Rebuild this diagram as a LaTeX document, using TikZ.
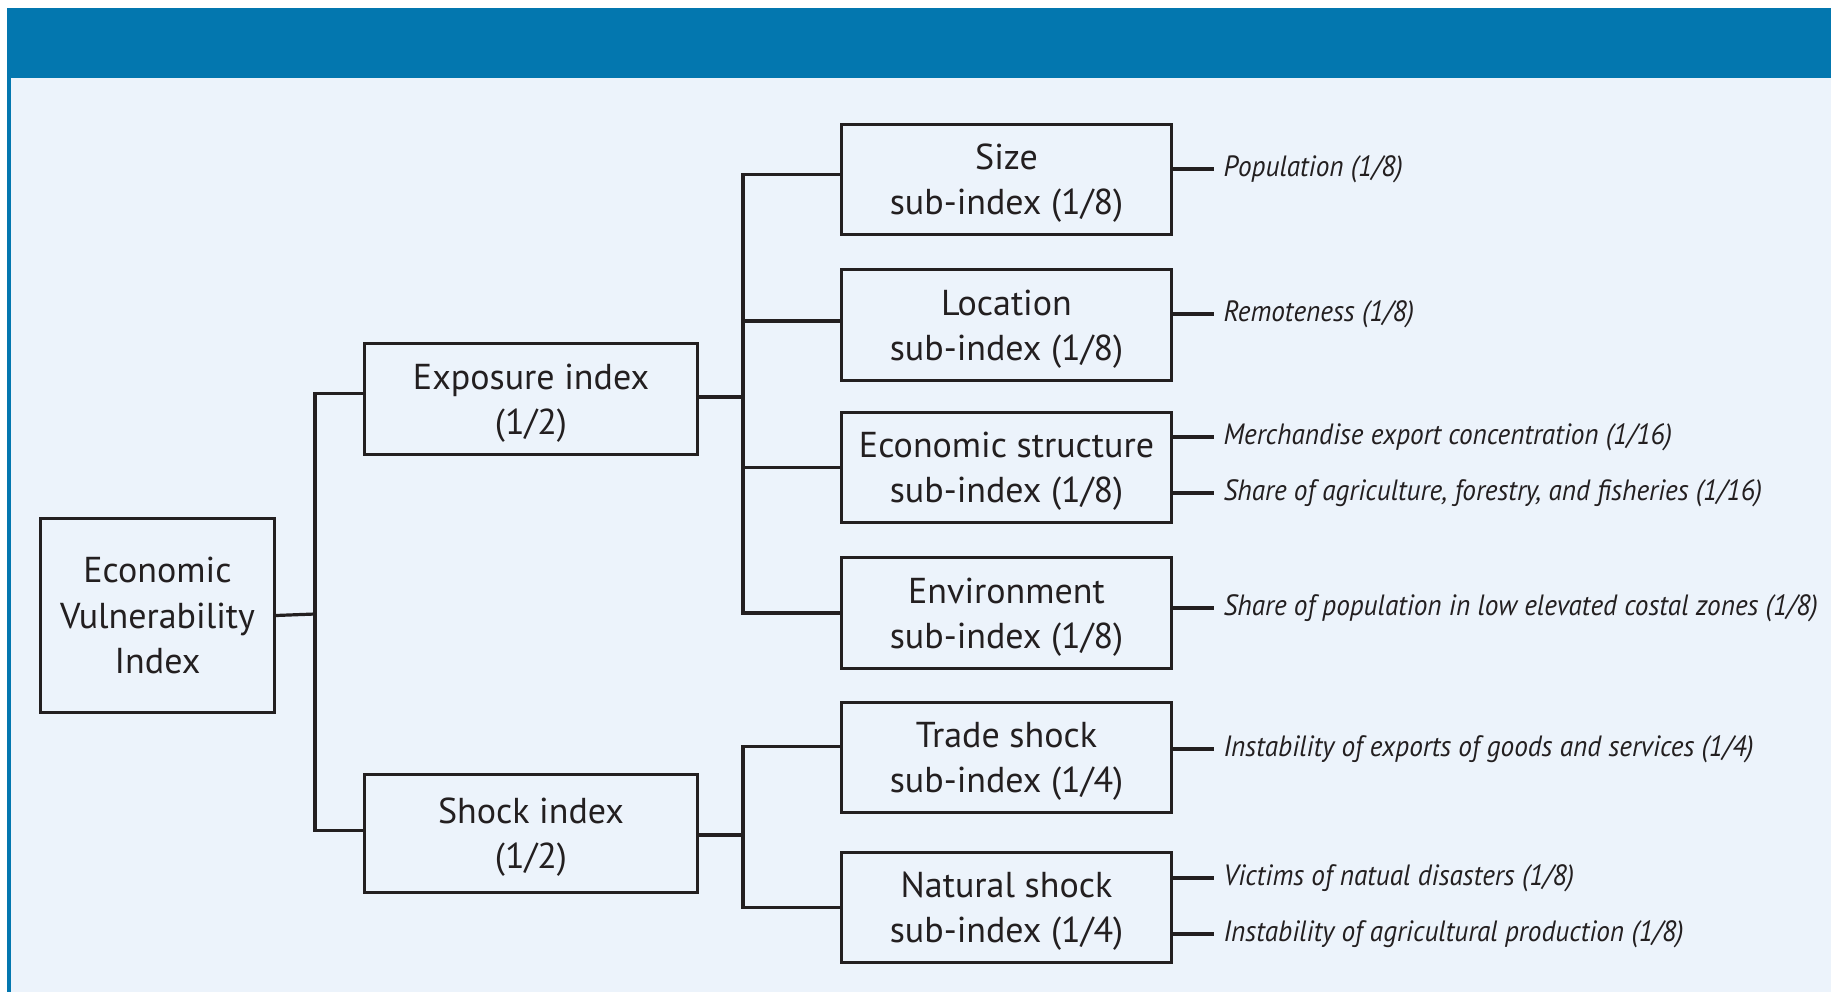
\documentclass[tikz,border=0pt]{standalone}
\usepackage{fontspec}
\setmainfont{PT Sans}
\newfontfamily\leaffont{PT Sans}[FakeStretch=0.93]
\usetikzlibrary{positioning}
\definecolor{banner}{RGB}{3,119,175}
\definecolor{panel}{RGB}{236,243,251}
\definecolor{ink}{RGB}{35,31,32}
\tikzset{
  box/.style={draw=ink, line width=2.4pt, text=ink, align=center,
    font=\fontsize{27}{34}\selectfont, inner sep=0pt, text depth=0pt},
  subbox/.style={box, minimum width=248pt, minimum height=83pt},
  leaf/.style={anchor=west, text=ink, inner ysep=0pt, inner xsep=7pt,
    font=\leaffont\fontsize{22}{26}\selectfont\itshape},
  link/.style={draw=ink, line width=2.4pt},
}
\begin{document}
\begin{tikzpicture}[x=0.75pt,y=-0.75pt]
  \useasboundingbox (0,0) rectangle (1831,992);
  % panel and banner
  \fill[panel] (7,8) rectangle (1831,992);
  \fill[banner] (7,8) rectangle (1831,78);
  \fill[banner] (7,78) rectangle (11,992);

  \node[box, minimum width=175pt, minimum height=146pt] (evi) at (157.5,615.5)
    {Economic\\Vulnerability\\Index};
  \node[box, minimum width=250pt, minimum height=83pt] (expo) at (531,399)
    {Exposure index\\(1/2)};
  \node[box, minimum width=250pt, minimum height=88pt] (shock) at (531,833.5)
    {Shock index\\(1/2)};

  \node[subbox] (size) at (1006.5,179.5) {Size\\sub-index (1/8)};
  \node[subbox] (loc) at (1006.5,325) {Location\\sub-index (1/8)};
  \node[subbox] (econ) at (1006.5,467.5) {Economic structure\\sub-index (1/8)};
  \node[subbox] (env) at (1006.5,613) {Environment\\sub-index (1/8)};
  \node[subbox] (trade) at (1006.5,757.5) {Trade shock\\sub-index (1/4)};
  \node[subbox] (nat) at (1006.5,907.5) {Natural shock\\sub-index (1/4)};

  \node[leaf] (pop) at (1214,169) {Population (1/8)};
  \node[leaf] (remote) at (1214,314) {Remoteness (1/8)};
  \node[leaf] (merch) at (1214,437) {Merchandise export concentration (1/16)};
  \node[leaf] (agri) at (1214,493) {Share of agriculture, forestry, and fisheries (1/16)};
  \node[leaf] (lowzone) at (1214,608) {Share of population in low elevated costal zones (1/8)};
  \node[leaf] (exports) at (1214,749) {Instability of exports of goods and services (1/4)};
  \node[leaf] (victims) at (1214,878) {Victims of natual disasters (1/8)};
  \node[leaf] (crops) at (1214,934) {Instability of agricultural production (1/8)};

  \coordinate (evifork) at (315,614);
  \coordinate (expofork) at (743,397);
  \coordinate (shockfork) at (743,835);

  % tree
  \draw[link] (evi.east) -- (evifork);
  \draw[link] ([yshift=4pt]expo.west) -| (evifork);
  \draw[link] ([yshift=2pt]shock.west) -| (evifork);

  \draw[link] (expo.east |- expofork) -- (expofork);
  \draw[link] ([yshift=4pt]size.west) -| (expofork);
  \draw[link] ([yshift=3pt]loc.west) -| (expofork);
  \foreach \n in {econ,env}
    \draw[link] (\n.west) -| (expofork);

  \draw[link] (shock.east |- shockfork) -- (shockfork);
  \draw[link] ([yshift=8.5pt]trade.west) -| (shockfork);
  \draw[link] (nat.west) -| (shockfork);

  % indicators
  \draw[link] (size.east |- pop.west) -- (pop.west);
  \draw[link] (loc.east |- remote.west) -- (remote.west);
  \draw[link] (econ.east |- merch.west) -- (merch.west);
  \draw[link] (econ.east |- agri.west) -- (agri.west);
  \draw[link] (env.east |- lowzone.west) -- (lowzone.west);
  \draw[link] (trade.east |- exports.west) -- (exports.west);
  \draw[link] (nat.east |- victims.west) -- (victims.west);
  \draw[link] (nat.east |- crops.west) -- (crops.west);
\end{tikzpicture}
\end{document}
